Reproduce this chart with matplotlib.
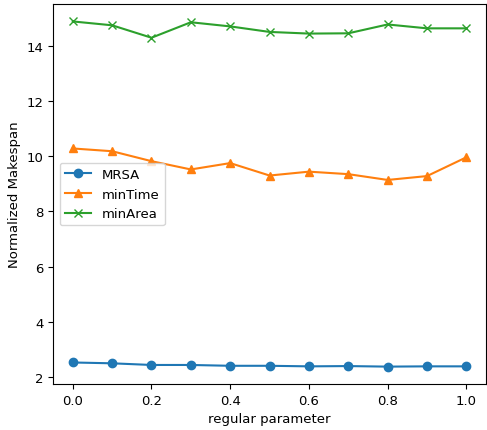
import matplotlib.pyplot as plt
import numpy as np

x = [0.0, 0.1, 0.2, 0.3, 0.4, 0.5, 0.6, 0.7, 0.8, 0.9, 1.0]
mrsa = [2.53, 2.50, 2.44, 2.44, 2.41, 2.41, 2.39, 2.40, 2.38, 2.39, 2.39]
min_time = [10.28, 10.18, 9.82, 9.52, 9.75, 9.30, 9.44, 9.35, 9.14, 9.28, 9.96]
min_area = [14.88, 14.74, 14.29, 14.85, 14.70, 14.50, 14.44, 14.45, 14.77, 14.63, 14.63]

plt.rcParams['font.size'] = 9.5

fig = plt.figure(figsize=(4.87, 4.31), dpi=100)
ax = fig.add_axes([0.109, 0.107, 0.889, 0.881])

ax.plot(x, mrsa, marker='o', label='MRSA')
ax.plot(x, min_time, marker='^', label='minTime')
ax.plot(x, min_area, marker='x', label='minArea')

ax.set_xlabel('regular parameter')
ax.set_ylabel('Normalized Makespan')
ax.set_yticks([2, 4, 6, 8, 10, 12, 14])
ax.legend(loc='center left')

fig.savefig('out.png', dpi=100)
